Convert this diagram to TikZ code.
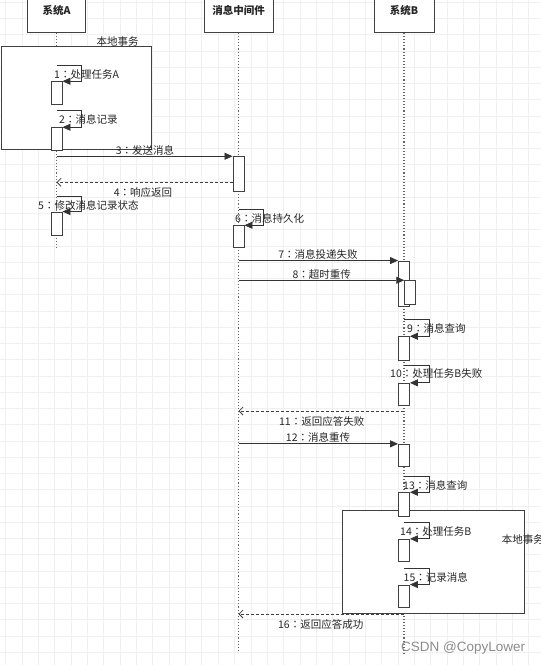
\documentclass[tikz,border=0pt]{standalone}
\usepackage{fontspec}
\setmainfont{Noto Sans CJK SC}
\newfontfamily\tcfont{Noto Sans CJK TC}
\newfontfamily\wmfont{Liberation Sans}
\newcommand{\cc}{{\tcfont ：}}
\usetikzlibrary{arrows.meta}
\begin{document}
\begin{tikzpicture}[x=1pt,y=-1pt,
  gridline/.style={draw=black!6,line width=0.5pt},
  head/.style={draw=black!75,line width=0.9pt,fill=white,inner sep=2pt,text height=13pt,text depth=16pt,font=\bfseries\fontsize{10.5}{12}\selectfont,text=black!85},
  life/.style={draw=black!60,dotted,line width=1.1pt},
  lbox/.style={draw=black!75,line width=0.9pt,fill=white,inner sep=0pt},
  act/.style={draw=black!75,line width=0.9pt,fill=white,minimum width=11pt,inner sep=0pt},
  msg/.style={draw=black!80,line width=0.8pt,-{Triangle[length=8pt,width=7pt]}},
  ret/.style={draw=black!75,line width=0.8pt,dashed,dash pattern=on 3pt off 2pt,-{Straight Barb[length=4pt,width=8pt]}},
  lab/.style={inner sep=0pt,text=black!85,font=\fontsize{10.5}{12}\selectfont},
]
\useasboundingbox (0,0) rectangle (541,665);
\fill[white] (0,0) rectangle (541,665);
% background grid
\foreach \i in {0,...,33} \draw[gridline] (5.5+16.35*\i,0) -- (5.5+16.35*\i,665);
\foreach \j in {0,...,41} \draw[gridline] (0,2+16.25*\j) -- (541,2+16.25*\j);

% headers
\node[head,minimum width=58pt] (hA) at (56.5,16) {系统A};
\node[head,minimum width=69pt] (hM) at (238.5,16) {消息中间件};
\node[head,minimum width=60pt] (hB) at (404,16) {系统B};

% lifelines
\coordinate (eA) at (56.5,247);
\coordinate (eM) at (238.5,652);
\coordinate (eB) at (404,654);
\draw[life] (hA.south) -- (eA);
\draw[life] (hM.south) -- (eM);
\draw[life] (hB.south) -- (eB);

% local transaction boxes
\node[lbox,minimum width=149.7pt,minimum height=103.6pt,anchor=north west] (txA) at (1,45.7) {};
\node[lbox,minimum width=182.6pt,minimum height=103.3pt,anchor=north west] (txB) at (341.7,510) {};

% activations
\node[act,minimum height=22.8pt] (a1) at (56.5,93.1) {};
\node[act,minimum height=23pt] (a2) at (56.5,139.2) {};
\node[act,minimum height=35pt] (m3) at (238.5,174.2) {};
\node[act,minimum height=23pt] (a5) at (56.5,223.5) {};
\node[act,minimum height=22pt] (m6) at (238.5,236.7) {};
\node[act,minimum height=45.7pt] (b7) at (404,283.85) {};
\node[act,minimum height=23.3pt] (b8) at (410.2,292.35) {};
\node[act,minimum height=23.3pt] (b9) at (404,348.35) {};
\node[act,minimum height=21.7pt] (b10) at (404,394.15) {};
\node[act,minimum height=22.4pt] (b12) at (404,455.5) {};
\node[act,minimum height=23.3pt] (b13) at (404,504.35) {};
\node[act,minimum height=22.4pt] (b14) at (404,550.5) {};
\node[act,minimum height=22.7pt] (b15) at (404,596.35) {};

% self calls
\coordinate (l1) at (56.5,65);
\coordinate (l2) at (56.5,110);
\coordinate (l5) at (56.5,196.7);
\coordinate (l6) at (238.5,209);
\coordinate (l9) at (404,319.3);
\coordinate (l10) at (404,365.7);
\coordinate (l13) at (404,476.7);
\coordinate (l14) at (404,522.7);
\coordinate (l15) at (404,568.3);
\draw[msg] (l1) -- ++(24.5,0) |- (a1.north east);
\draw[msg] (l2) -- ++(24.5,0) |- (a2.north east);
\draw[msg] (l5) -- ++(24.5,0) |- (a5.north east);
\draw[msg] (l6) -- ++(24.5,0) |- (m6.north east);
\draw[msg] (l9) -- ++(25,0) |- (b9.north east);
\draw[msg] (l10) -- ++(25,0) |- (b10.north east);
\draw[msg] (l13) -- ++(25,0) |- (b13.north east);
\draw[msg] (l14) -- ++(25,0) |- (b14.north east);
\draw[msg] (l15) -- ++(25,0) |- (b15.north east);

% messages
\draw[msg] (hA |- m3.north west) -- (m3.north west);
\draw[msg] (hM |- b7.north west) -- (b7.north west);
\draw[msg] (hM |- b8.north west) -- (b8.north west);
\draw[msg] (hM |- b12.north west) -- (b12.north west);

% returns
\coordinate (r4) at (56.5,182.3);
\coordinate (r11) at (238.5,411);
\coordinate (r16) at (238.5,614);
\draw[ret] (m3.west |- r4) -- (r4);
\draw[ret] (hB |- r11) -- (r11);
\draw[ret] (hB |- r16) -- (r16);

% labels
\node[lab] (txAl) at (117.5,42) {本地事务};
\node[lab,anchor=west] (txBl) at (501.7,539.3) {本地事务};
\node[lab,anchor=west] (t1) at (54,75) {1\cc 处理任务A};
\node[lab,anchor=west] (t2) at (59,119.5) {2\cc 消息记录};
\node[lab] (t3) at (145,150) {3\cc 发送消息};
\node[lab] (t4) at (143,192.7) {4\cc 响应返回};
\node[lab,anchor=west] (t5) at (38,205) {5\cc 修改消息记录状态};
\node[lab,anchor=west] (t6) at (235,218) {6\cc 消息持久化};
\node[lab] (t7) at (318,254) {7\cc 消息投递失败};
\node[lab] (t8) at (321.7,275) {8\cc 超时重传};
\node[lab,anchor=west] (t9) at (407,328) {9\cc 消息查询};
\node[lab,anchor=west] (t10) at (390,374) {10\cc 处理任务B失败};
\node[lab] (t11) at (321.7,421.7) {11\cc 返回应答失败};
\node[lab] (t12) at (318,437.3) {12\cc 消息重传};
\node[lab,anchor=west] (t13) at (403,485) {13\cc 消息查询};
\node[lab,anchor=west] (t14) at (400,531.7) {14\cc 处理任务B};
\node[lab,anchor=west] (t15) at (403.5,577.7) {15\cc 记录消息};
\node[lab] (t16) at (320.7,624) {16\cc 返回应答成功};

% watermark
\node[anchor=west,inner sep=0pt,text=black!45,font=\wmfont\fontsize{13.5}{15}\selectfont] (wm) at (401,648) {CSDN @CopyLower};
\end{tikzpicture}
\end{document}
